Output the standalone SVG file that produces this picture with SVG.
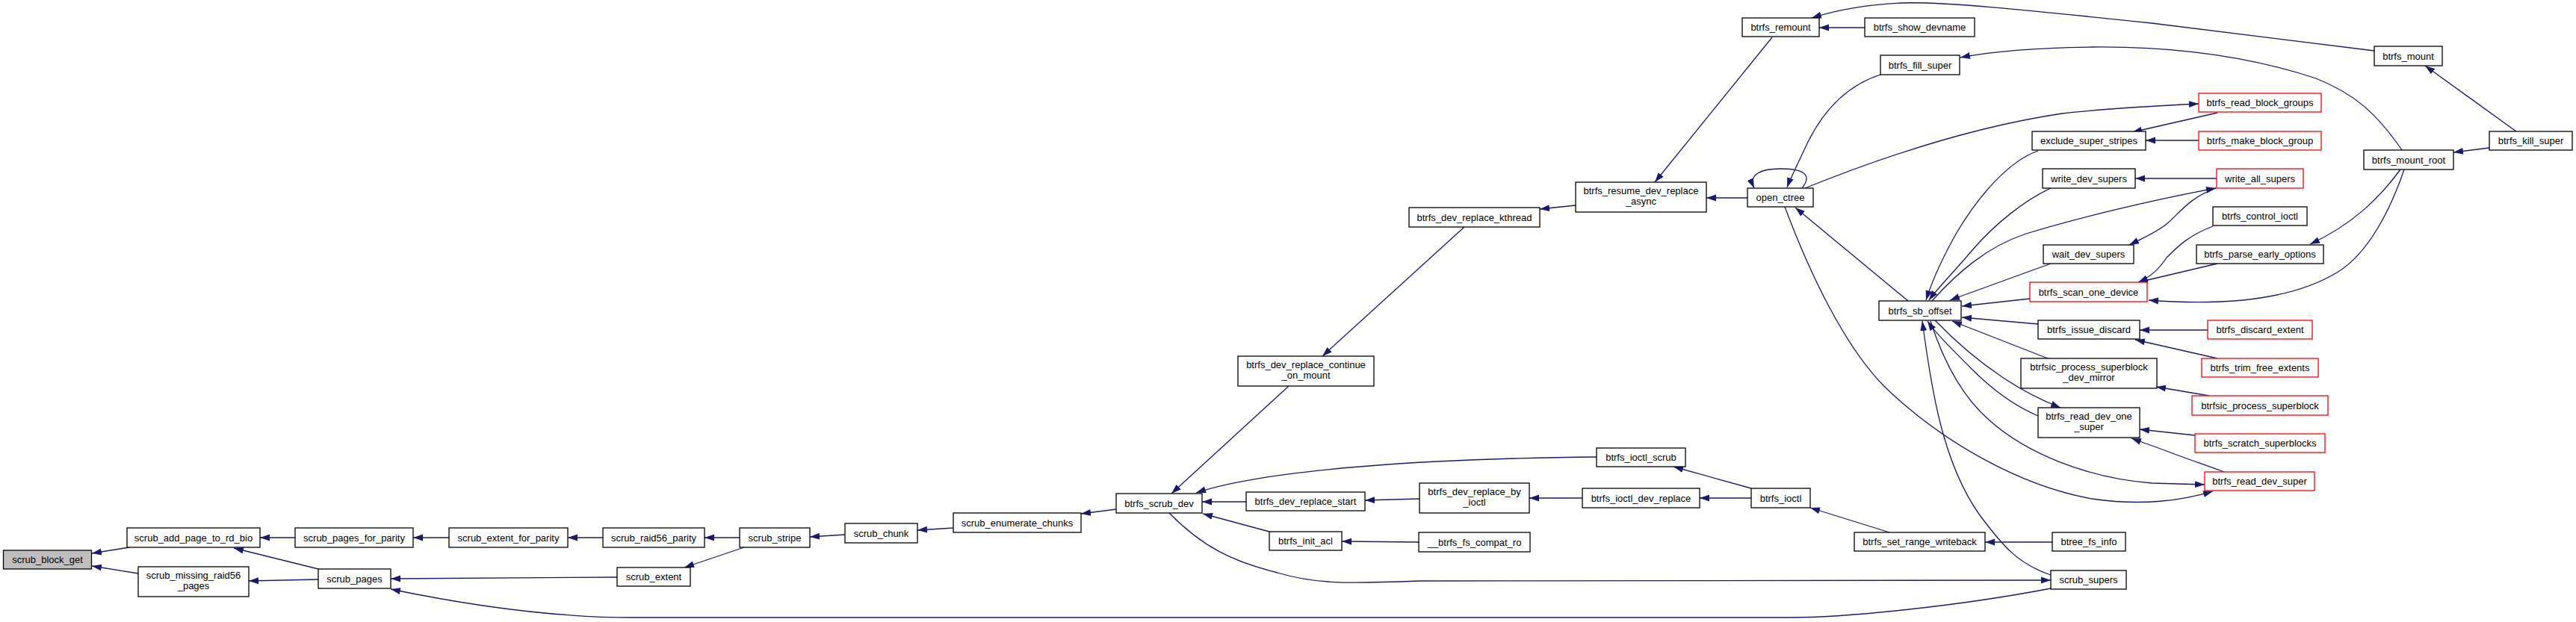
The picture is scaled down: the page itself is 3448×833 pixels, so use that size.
<svg xmlns="http://www.w3.org/2000/svg" width="3448" height="833" viewBox="0 0 3448 833">
<style>
.n rect{fill:#fff;stroke:#000;stroke-width:1.3}
.n.r rect{stroke:#f00}
.n.root rect{fill:#bfbfbf}
text{font-family:"Liberation Sans",Arial,sans-serif;font-size:13px;text-anchor:middle;fill:#000}
.e path{fill:none;stroke:#191970;stroke-width:1.3;marker-end:url(#ah)}
</style>
<defs>
<marker id="ah" markerWidth="14" markerHeight="10" refX="13" refY="5" orient="auto" markerUnits="userSpaceOnUse"><path d="M0,0.5 L13,5 L0,9.5 z" fill="#191970"/></marker>
</defs>
<rect width="3448" height="833" fill="#fff"/>
<g class="e" id="edges">
<path d="M173,733 L123,741"/>
<path d="M185,768 L123,758"/>
<path d="M395,720 L348,720"/>
<path d="M426,762 L313,734"/>
<path d="M426,776 L333,778"/>
<path d="M601,720 L553,720"/>
<path d="M826,773 L523,775"/>
<path d="M2745,788 C2620,812 2470,827 2395,827 L847,827 C720,827 600,805 523,789"/>
<path d="M807,720 L760,720"/>
<path d="M990,720 L943,720"/>
<path d="M996,733 L916,760"/>
<path d="M1131,716 L1084,719"/>
<path d="M1276,707 L1228,710"/>
<path d="M1494,682 L1447,688"/>
<path d="M1725,517 L1568,661"/>
<path d="M1960,304 L1770,477"/>
<path d="M2109,275 L2061,280"/>
<path d="M1668,672 L1609,672"/>
<path d="M2137,612 C1900,614 1690,630 1601,660"/>
<path d="M1699,712 L1610,688"/>
<path d="M1565,687 C1610,733 1650,752 1710,767 C1760,782 1800,782 1900,778 L2745,777"/>
<path d="M1899,726 L1796,725"/>
<path d="M1900,668 L1827,670"/>
<path d="M2118,667 L2047,667"/>
<path d="M2344,654 L2240,625"/>
<path d="M2344,667 L2275,667"/>
<path d="M2529,713 L2423,680"/>
<path d="M2747,726 L2657,726"/>
<path d="M2745,770 C2700,755 2680,730 2650,690 C2600,620 2585,520 2573,430"/>
<path d="M2554,403 L2403,278"/>
<path d="M2339,265 L2284,265"/>
<path d="M2372,50 L2215,244"/>
<path d="M2496,37 L2435,37"/>
<path d="M3178,68 L2880,31 C2700,12 2600,2 2545,4 C2500,6 2460,13 2425,24"/>
<path d="M2412,252 C2428,232 2410,226 2383,226 C2356,226 2340,234 2348,252"/>
<path d="M2517,100 C2470,115 2440,150 2420,190 C2405,222 2396,240 2392,251"/>
<path d="M3215,201 C3180,150 3150,125 3100,105 C3000,72 2900,62 2800,63 C2720,64 2660,70 2624,77"/>
<path d="M2416,252 C2520,210 2640,170 2760,152 C2820,145 2880,142 2943,139"/>
<path d="M2968,151 L2854,177"/>
<path d="M2943,188 L2872,188"/>
<path d="M2728,202 C2690,215 2650,260 2620,310 C2600,345 2585,380 2578,402"/>
<path d="M2967,239 L2858,239"/>
<path d="M2745,252 C2710,268 2670,300 2640,335 C2610,370 2592,388 2582,402"/>
<path d="M2586,403 C2620,365 2660,330 2712,313 C2780,292 2880,268 2966,252"/>
<path d="M2966,252 C2930,265 2918,285 2900,300 C2885,312 2870,318 2850,328"/>
<path d="M2745,353 L2610,402"/>
<path d="M2717,400 L2626,410"/>
<path d="M2962,303 C2930,315 2915,330 2900,345 C2890,360 2880,370 2862,378"/>
<path d="M2968,353 L2862,378"/>
<path d="M3213,227 C3185,265 3150,300 3092,327"/>
<path d="M3218,227 C3200,280 3170,340 3128,365 C3070,400 2980,410 2876,402"/>
<path d="M3368,176 L3246,88"/>
<path d="M3332,198 L3284,204"/>
<path d="M2728,434 L2626,425"/>
<path d="M2741,480 L2613,430"/>
<path d="M2590,429 C2620,460 2650,485 2680,505 C2705,522 2730,535 2758,546"/>
<path d="M2728,557 C2700,545 2670,525 2640,495 C2610,465 2590,445 2580,430"/>
<path d="M2584,430 C2600,480 2625,530 2663,563 C2710,605 2790,640 2880,647 L2951,649"/>
<path d="M2389,277 C2420,360 2470,470 2530,525 C2600,590 2700,650 2800,668 C2870,678 2920,670 2962,658"/>
<path d="M2955,442 L2864,442"/>
<path d="M2968,480 L2858,455"/>
<path d="M2957,530 L2886,518"/>
<path d="M2938,583 L2864,575"/>
<path d="M2977,632 C2950,622 2920,612 2900,604 L2853,587"/>
</g>
<g id="scrub_block_get" class="n root"><rect x="4.5" y="737" width="118" height="25"/><text x="63.5" y="754">scrub_block_get</text></g>
<g id="scrub_add_page_to_rd_bio" class="n"><rect x="170" y="707" width="178" height="26"/><text x="259" y="724.5">scrub_add_page_to_rd_bio</text></g>
<g id="scrub_missing_raid56_pages" class="n"><rect x="185" y="759" width="148" height="40"/><text x="259" y="775">scrub_missing_raid56</text><text x="259" y="789">_pages</text></g>
<g id="scrub_pages_for_parity" class="n"><rect x="395" y="707" width="158" height="26"/><text x="474" y="724.5">scrub_pages_for_parity</text></g>
<g id="scrub_pages" class="n"><rect x="426" y="762" width="97" height="26"/><text x="474.5" y="779.5">scrub_pages</text></g>
<g id="scrub_extent_for_parity" class="n"><rect x="601" y="707" width="159" height="26"/><text x="680.5" y="724.5">scrub_extent_for_parity</text></g>
<g id="scrub_raid56_parity" class="n"><rect x="807" y="707" width="136" height="26"/><text x="875" y="724.5">scrub_raid56_parity</text></g>
<g id="scrub_stripe" class="n"><rect x="990" y="707" width="94" height="26"/><text x="1037" y="724.5">scrub_stripe</text></g>
<g id="scrub_extent" class="n"><rect x="826" y="760" width="98" height="25"/><text x="875" y="777">scrub_extent</text></g>
<g id="scrub_chunk" class="n"><rect x="1131" y="701" width="97" height="26"/><text x="1179.5" y="718.5">scrub_chunk</text></g>
<g id="scrub_enumerate_chunks" class="n"><rect x="1276" y="687" width="171" height="26"/><text x="1361.5" y="704.5">scrub_enumerate_chunks</text></g>
<g id="btrfs_scrub_dev" class="n"><rect x="1494" y="661" width="115" height="26"/><text x="1551.5" y="678.5">btrfs_scrub_dev</text></g>
<g id="btrfs_dev_replace_continue_on_mount" class="n"><rect x="1657" y="477" width="182" height="40"/><text x="1748" y="493">btrfs_dev_replace_continue</text><text x="1748" y="507">_on_mount</text></g>
<g id="btrfs_dev_replace_start" class="n"><rect x="1668" y="659" width="159" height="25"/><text x="1747.5" y="676">btrfs_dev_replace_start</text></g>
<g id="btrfs_init_acl" class="n"><rect x="1699" y="712" width="97" height="25"/><text x="1747.5" y="729">btrfs_init_acl</text></g>
<g id="btrfs_dev_replace_kthread" class="n"><rect x="1886" y="278" width="175" height="26"/><text x="1973.5" y="295.5">btrfs_dev_replace_kthread</text></g>
<g id="btrfs_resume_dev_replace_async" class="n"><rect x="2109" y="244" width="175" height="40"/><text x="2196.5" y="260">btrfs_resume_dev_replace</text><text x="2196.5" y="274">_async</text></g>
<g id="btrfs_ioctl_scrub" class="n"><rect x="2137" y="600" width="119" height="25"/><text x="2196.5" y="617">btrfs_ioctl_scrub</text></g>
<g id="btrfs_dev_replace_by_ioctl" class="n"><rect x="1900" y="647" width="147" height="40"/><text x="1973.5" y="663">btrfs_dev_replace_by</text><text x="1973.5" y="677">_ioctl</text></g>
<g id="btrfs_ioctl_dev_replace" class="n"><rect x="2118" y="654" width="157" height="26"/><text x="2196.5" y="671.5">btrfs_ioctl_dev_replace</text></g>
<g id="__btrfs_fs_compat_ro" class="n"><rect x="1899" y="713" width="149" height="26"/><text x="1973.5" y="730.5">__btrfs_fs_compat_ro</text></g>
<g id="btrfs_remount" class="n"><rect x="2332" y="24" width="103" height="25"/><text x="2383.5" y="41">btrfs_remount</text></g>
<g id="btrfs_show_devname" class="n"><rect x="2496" y="24" width="147" height="25"/><text x="2569.5" y="41">btrfs_show_devname</text></g>
<g id="btrfs_fill_super" class="n"><rect x="2517" y="74" width="106" height="26"/><text x="2570" y="91.5">btrfs_fill_super</text></g>
<g id="open_ctree" class="n"><rect x="2339" y="252" width="88" height="25"/><text x="2383" y="269">open_ctree</text></g>
<g id="btrfs_sb_offset" class="n"><rect x="2515" y="403" width="110" height="26"/><text x="2570" y="420.5">btrfs_sb_offset</text></g>
<g id="btrfs_ioctl" class="n"><rect x="2344" y="654" width="79" height="26"/><text x="2383.5" y="671.5">btrfs_ioctl</text></g>
<g id="btrfs_set_range_writeback" class="n"><rect x="2482" y="713" width="175" height="25"/><text x="2569.5" y="730">btrfs_set_range_writeback</text></g>
<g id="exclude_super_stripes" class="n"><rect x="2720" y="176" width="152" height="25"/><text x="2796" y="193">exclude_super_stripes</text></g>
<g id="write_dev_supers" class="n"><rect x="2734" y="226" width="124" height="26"/><text x="2796" y="243.5">write_dev_supers</text></g>
<g id="wait_dev_supers" class="n"><rect x="2735" y="328" width="121" height="25"/><text x="2795.5" y="345">wait_dev_supers</text></g>
<g id="btrfs_scan_one_device" class="n r"><rect x="2717" y="378" width="157" height="26"/><text x="2795.5" y="395.5">btrfs_scan_one_device</text></g>
<g id="btrfs_issue_discard" class="n"><rect x="2728" y="429" width="136" height="25"/><text x="2796" y="446">btrfs_issue_discard</text></g>
<g id="btrfsic_process_superblock_dev_mirror" class="n"><rect x="2705" y="480" width="182" height="40"/><text x="2796" y="496">btrfsic_process_superblock</text><text x="2796" y="510">_dev_mirror</text></g>
<g id="btrfs_read_dev_one_super" class="n"><rect x="2728" y="546" width="136" height="40"/><text x="2796" y="562">btrfs_read_dev_one</text><text x="2796" y="576">_super</text></g>
<g id="btree_fs_info" class="n"><rect x="2747" y="713" width="98" height="25"/><text x="2796" y="730">btree_fs_info</text></g>
<g id="scrub_supers" class="n"><rect x="2745" y="764" width="101" height="25"/><text x="2795.5" y="781">scrub_supers</text></g>
<g id="btrfs_read_block_groups" class="n r"><rect x="2943" y="125" width="164" height="25"/><text x="3025" y="142">btrfs_read_block_groups</text></g>
<g id="btrfs_make_block_group" class="n r"><rect x="2943" y="176" width="164" height="25"/><text x="3025" y="193">btrfs_make_block_group</text></g>
<g id="write_all_supers" class="n r"><rect x="2967" y="226" width="116" height="26"/><text x="3025" y="243.5">write_all_supers</text></g>
<g id="btrfs_control_ioctl" class="n"><rect x="2962" y="277" width="126" height="25"/><text x="3025" y="294">btrfs_control_ioctl</text></g>
<g id="btrfs_parse_early_options" class="n"><rect x="2940" y="328" width="170" height="25"/><text x="3025" y="345">btrfs_parse_early_options</text></g>
<g id="btrfs_discard_extent" class="n r"><rect x="2955" y="429" width="140" height="25"/><text x="3025" y="446">btrfs_discard_extent</text></g>
<g id="btrfs_trim_free_extents" class="n r"><rect x="2947" y="480" width="156" height="25"/><text x="3025" y="497">btrfs_trim_free_extents</text></g>
<g id="btrfsic_process_superblock" class="n r"><rect x="2934" y="530" width="182" height="26"/><text x="3025" y="547.5">btrfsic_process_superblock</text></g>
<g id="btrfs_scratch_superblocks" class="n r"><rect x="2938" y="581" width="174" height="25"/><text x="3025" y="598">btrfs_scratch_superblocks</text></g>
<g id="btrfs_read_dev_super" class="n r"><rect x="2951" y="632" width="147" height="25"/><text x="3024.5" y="649">btrfs_read_dev_super</text></g>
<g id="btrfs_mount" class="n"><rect x="3178" y="62" width="91" height="26"/><text x="3223.5" y="79.5">btrfs_mount</text></g>
<g id="btrfs_mount_root" class="n"><rect x="3164" y="201" width="120" height="26"/><text x="3224" y="218.5">btrfs_mount_root</text></g>
<g id="btrfs_kill_super" class="n"><rect x="3332" y="176" width="111" height="25"/><text x="3387.5" y="193">btrfs_kill_super</text></g>
</svg>
